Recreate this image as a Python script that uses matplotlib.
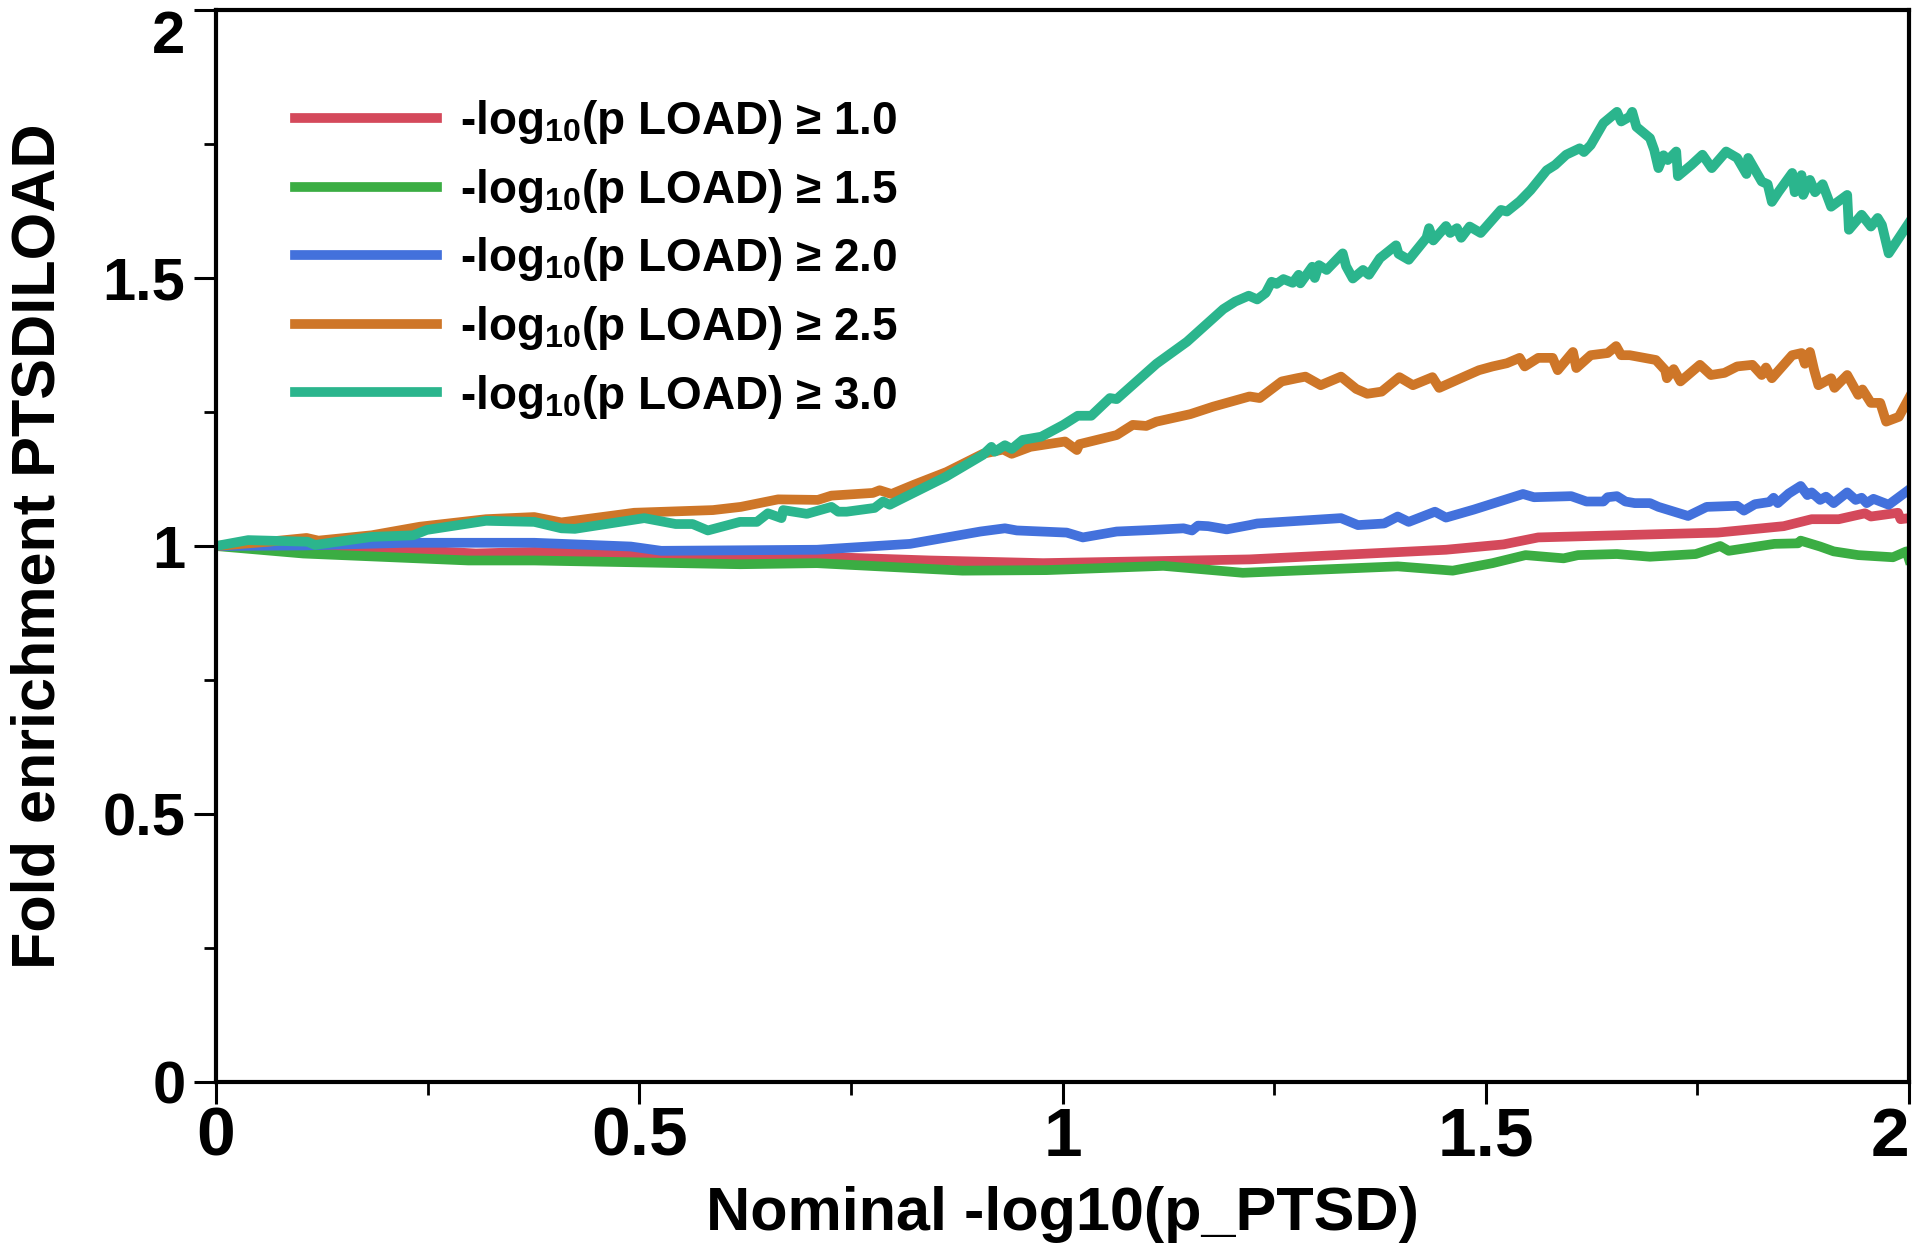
#!/usr/bin/env python3
"""
Fold enrichment of PTSD|LOAD vs nominal -log10(p_PTSD), one curve per LOAD
threshold. Writes out.png (1920x1256).
"""

import matplotlib
matplotlib.use("Agg")
import matplotlib.pyplot as plt
from matplotlib.ticker import MultipleLocator

# threshold labels, in plotting order
THRESHOLDS = ["1.0", "1.5", "2.0", "2.5", "3.0"]
COLORS = ["#D4495B", "#3BAD43", "#4371DC", "#CE7628", "#2BB58D"]

# -log10(p LOAD) >= 1.0
x_10 = [0.000, 0.225, 0.307, 0.376, 0.490, 0.526, 0.619, 0.710, 0.843, 0.977,
        1.119, 1.221, 1.453, 1.521, 1.562, 1.774, 1.852, 1.885, 1.917, 1.948,
        1.955, 1.987, 1.990, 2.000]
y_10 = [1.000, 0.993, 0.986, 0.989, 0.985, 0.980, 0.980, 0.980, 0.973, 0.968,
        0.972, 0.975, 0.993, 1.003, 1.016, 1.025, 1.037, 1.050, 1.050, 1.061,
        1.055, 1.062, 1.050, 1.052]

# -log10(p LOAD) >= 1.5
x_15 = [0.000, 0.103, 0.298, 0.376, 0.619, 0.710, 0.882, 0.981, 1.119, 1.213,
        1.396, 1.461, 1.508, 1.547, 1.592, 1.609, 1.655, 1.694, 1.748, 1.777,
        1.787, 1.841, 1.869, 1.872, 1.895, 1.911, 1.940, 1.981, 1.997, 2.000]
y_15 = [1.000, 0.986, 0.973, 0.973, 0.966, 0.968, 0.954, 0.955, 0.963, 0.950,
        0.962, 0.954, 0.968, 0.983, 0.977, 0.983, 0.985, 0.980, 0.985, 1.000,
        0.991, 1.004, 1.005, 1.010, 0.999, 0.990, 0.983, 0.979, 0.990, 0.975]

# -log10(p LOAD) >= 2.0
x_20 = [0.000, 0.103, 0.225, 0.376, 0.490, 0.526, 0.619, 0.710, 0.820, 0.903,
        0.932, 0.946, 1.005, 1.024, 1.064, 1.107, 1.143, 1.153, 1.160, 1.172,
        1.194, 1.221, 1.230, 1.329, 1.349, 1.380, 1.396, 1.409, 1.440, 1.453,
        1.486, 1.544, 1.557, 1.601, 1.619, 1.639, 1.644, 1.655, 1.665, 1.676,
        1.694, 1.704, 1.739, 1.761, 1.797, 1.805, 1.818, 1.835, 1.840, 1.845,
        1.858, 1.872, 1.880, 1.885, 1.895, 1.902, 1.911, 1.927, 1.937, 1.944,
        1.950, 1.958, 1.976, 2.000]
y_20 = [1.000, 1.001, 1.006, 1.006, 0.999, 0.991, 0.992, 0.993, 1.004, 1.027,
        1.033, 1.029, 1.025, 1.016, 1.027, 1.030, 1.033, 1.029, 1.038, 1.037,
        1.031, 1.039, 1.042, 1.052, 1.039, 1.042, 1.055, 1.045, 1.064, 1.053,
        1.068, 1.097, 1.091, 1.093, 1.083, 1.083, 1.091, 1.093, 1.083, 1.080,
        1.080, 1.073, 1.056, 1.073, 1.075, 1.066, 1.078, 1.082, 1.090, 1.080,
        1.098, 1.112, 1.095, 1.100, 1.086, 1.092, 1.080, 1.100, 1.086, 1.090,
        1.080, 1.088, 1.077, 1.105]

# -log10(p LOAD) >= 2.5
x_25 = [0.000, 0.062, 0.107, 0.121, 0.184, 0.241, 0.319, 0.376, 0.408, 0.494,
        0.587, 0.620, 0.664, 0.711, 0.727, 0.776, 0.784, 0.798, 0.824, 0.863,
        0.906, 0.930, 0.940, 0.962, 1.003, 1.017, 1.020, 1.064, 1.083, 1.099,
        1.111, 1.151, 1.178, 1.221, 1.233, 1.259, 1.277, 1.287, 1.305, 1.329,
        1.347, 1.360, 1.377, 1.398, 1.414, 1.437, 1.445, 1.479, 1.492, 1.508,
        1.525, 1.540, 1.546, 1.562, 1.579, 1.585, 1.603, 1.607, 1.624, 1.644,
        1.654, 1.660, 1.670, 1.701, 1.712, 1.714, 1.722, 1.730, 1.753, 1.766,
        1.782, 1.797, 1.815, 1.826, 1.831, 1.838, 1.862, 1.873, 1.877, 1.883,
        1.888, 1.893, 1.908, 1.912, 1.927, 1.940, 1.945, 1.955, 1.966, 1.973,
        1.988, 2.000]
y_25 = [1.000, 1.008, 1.015, 1.010, 1.020, 1.036, 1.050, 1.054, 1.044, 1.062,
        1.067, 1.073, 1.087, 1.086, 1.094, 1.099, 1.104, 1.097, 1.114, 1.138,
        1.172, 1.180, 1.172, 1.185, 1.195, 1.179, 1.190, 1.207, 1.226, 1.224,
        1.232, 1.246, 1.260, 1.279, 1.276, 1.307, 1.313, 1.316, 1.300, 1.316,
        1.293, 1.284, 1.288, 1.315, 1.300, 1.315, 1.295, 1.319, 1.328, 1.335,
        1.341, 1.351, 1.335, 1.351, 1.351, 1.328, 1.362, 1.332, 1.356, 1.360,
        1.373, 1.356, 1.356, 1.347, 1.328, 1.313, 1.330, 1.307, 1.338, 1.319,
        1.323, 1.335, 1.338, 1.319, 1.333, 1.313, 1.356, 1.360, 1.340, 1.362,
        1.328, 1.300, 1.313, 1.295, 1.319, 1.282, 1.292, 1.267, 1.267, 1.232,
        1.241, 1.276]

# -log10(p LOAD) >= 3.0
x_30 = [0.000, 0.038, 0.108, 0.117, 0.184, 0.233, 0.249, 0.319, 0.376, 0.408,
        0.424, 0.506, 0.543, 0.563, 0.581, 0.619, 0.639, 0.652, 0.668, 0.670,
        0.698, 0.727, 0.735, 0.745, 0.778, 0.788, 0.796, 0.806, 0.862, 0.906,
        0.916, 0.920, 0.932, 0.940, 0.953, 0.975, 1.001, 1.018, 1.034, 1.056,
        1.064, 1.111, 1.147, 1.190, 1.204, 1.220, 1.230, 1.240, 1.247, 1.253,
        1.261, 1.272, 1.279, 1.281, 1.295, 1.298, 1.303, 1.312, 1.331, 1.335,
        1.343, 1.355, 1.362, 1.375, 1.394, 1.397, 1.409, 1.430, 1.433, 1.438,
        1.453, 1.458, 1.466, 1.471, 1.481, 1.494, 1.518, 1.525, 1.540, 1.553,
        1.572, 1.582, 1.595, 1.611, 1.616, 1.624, 1.639, 1.655, 1.660, 1.670,
        1.673, 1.678, 1.694, 1.699, 1.704, 1.710, 1.715, 1.725, 1.727, 1.743,
        1.756, 1.767, 1.784, 1.797, 1.808, 1.810, 1.826, 1.833, 1.838, 1.846,
        1.862, 1.865, 1.873, 1.875, 1.883, 1.889, 1.898, 1.908, 1.927, 1.929,
        1.944, 1.955, 1.963, 1.968, 1.976, 2.000]
y_30 = [1.000, 1.011, 1.008, 1.002, 1.017, 1.020, 1.030, 1.047, 1.045, 1.033,
        1.032, 1.052, 1.041, 1.041, 1.029, 1.045, 1.045, 1.061, 1.052, 1.067,
        1.060, 1.073, 1.064, 1.064, 1.071, 1.083, 1.077, 1.085, 1.129, 1.170,
        1.185, 1.176, 1.188, 1.181, 1.198, 1.204, 1.226, 1.243, 1.243, 1.276,
        1.274, 1.340, 1.381, 1.442, 1.456, 1.467, 1.460, 1.472, 1.493, 1.489,
        1.498, 1.491, 1.506, 1.490, 1.521, 1.500, 1.524, 1.515, 1.546, 1.522,
        1.499, 1.515, 1.506, 1.537, 1.561, 1.545, 1.534, 1.575, 1.593, 1.570,
        1.597, 1.584, 1.593, 1.575, 1.596, 1.584, 1.627, 1.624, 1.643, 1.664,
        1.701, 1.711, 1.730, 1.742, 1.735, 1.748, 1.789, 1.810, 1.792, 1.801,
        1.810, 1.782, 1.761, 1.739, 1.705, 1.729, 1.720, 1.736, 1.690, 1.711,
        1.730, 1.705, 1.736, 1.724, 1.694, 1.724, 1.680, 1.675, 1.642, 1.661,
        1.696, 1.660, 1.692, 1.655, 1.683, 1.660, 1.675, 1.633, 1.655, 1.590,
        1.618, 1.596, 1.612, 1.599, 1.546, 1.603]

SERIES_X = [x_10, x_15, x_20, x_25, x_30]
SERIES_Y = [y_10, y_15, y_20, y_25, y_30]

X_TICKS = [0, 0.5, 1, 1.5, 2]
X_TICKLABELS = ["0", "0.5", "1", "1.5", "2"]
Y_TICKS = [0, 0.5, 1, 1.5, 2]
Y_TICKLABELS = ["0", "0.5", "1", "1.5", "2"]

BOLD = ["Liberation Sans", "DejaVu Sans"]


def main():
    plt.rcParams["font.family"] = BOLD
    plt.rcParams["font.weight"] = "bold"
    plt.rcParams["mathtext.fontset"] = "custom"
    plt.rcParams["mathtext.rm"] = "Liberation Sans:bold"
    plt.rcParams["mathtext.default"] = "rm"

    fig = plt.figure(figsize=(19.2, 12.56), dpi=100)
    ax = fig.add_axes([216 / 1920, 1 - 1082 / 1256,
                       (1909 - 216) / 1920, (1082 - 10) / 1256])

    for xs, ys, thr, color in zip(SERIES_X, SERIES_Y, THRESHOLDS, COLORS):
        ax.plot(xs, ys, color=color, lw=7,
                label="-log$_{10}$(p LOAD) \u2265 " + thr)

    ax.set_xlim(0, 2)
    ax.set_ylim(0, 2)
    ax.set_xticks(X_TICKS)
    xlabels = ax.set_xticklabels(X_TICKLABELS, fontsize=50,
                                 fontweight="bold")
    # last label pulled left so it is not cut by the figure edge
    xlabels[-1].set_horizontalalignment("right")
    ax.set_yticks(Y_TICKS)
    ylabels = ax.set_yticklabels(Y_TICKLABELS, fontsize=43,
                                 fontweight="bold")
    # top label sits below the axis top so it stays inside the figure
    ylabels[-1].set_verticalalignment("top")
    ax.xaxis.set_minor_locator(MultipleLocator(0.25))
    ax.yaxis.set_minor_locator(MultipleLocator(0.25))
    ax.tick_params(which="major", direction="out", length=16, width=2.2)
    ax.tick_params(which="minor", direction="out", length=9, width=2.0)
    ax.tick_params(axis="x", which="major", pad=1)
    ax.tick_params(axis="y", which="major", pad=6)
    for sp in ax.spines.values():
        sp.set_linewidth(3)

    ax.set_xlabel("Nominal -log10(p_PTSD)", fontsize=44,
                  fontweight="bold", labelpad=12)
    ax.set_ylabel("Fold enrichment PTSDILOAD", fontsize=44,
                  fontweight="bold")
    # text box edge ~68 px from the figure's left side (glyphs end ~55 px)
    ax.yaxis.set_label_coords((68 - 216) / (1909 - 216), 0.5)

    leg = ax.legend(loc="upper left", bbox_to_anchor=(0.036, 0.935),
                    frameon=False, fontsize=33, handlelength=3.1,
                    handletextpad=0.5, labelspacing=0.45,
                    borderaxespad=0)
    for line in leg.get_lines():
        line.set_linewidth(7)

    fig.savefig("out.png", dpi=100)


if __name__ == "__main__":
    main()
